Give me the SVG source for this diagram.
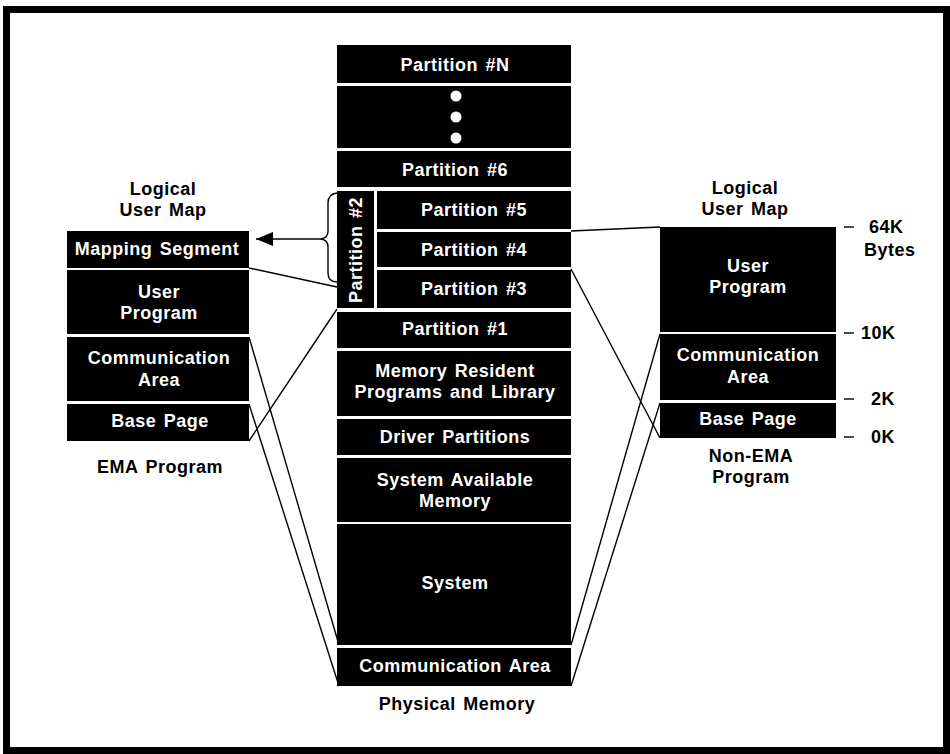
<svg xmlns="http://www.w3.org/2000/svg" width="950" height="754" viewBox="0 0 950 754">
<style>
.box{fill:#000}
.t{font-family:"Liberation Sans",Arial,Helvetica,sans-serif;font-weight:bold;font-size:18px;letter-spacing:0.5px;word-spacing:2px;text-anchor:middle;dominant-baseline:central}
.w{fill:#fff}
.k{fill:#000}
.s{text-anchor:start}
.ln{stroke:#000;stroke-width:1.4;fill:none}
</style>
<defs>
<marker id="ah" markerWidth="10" markerHeight="10" refX="9" refY="5" orient="auto" markerUnits="userSpaceOnUse" viewBox="0 0 10 10">
<path d="M0,0 L10,5 L0,10 Z" fill="#000"/>
</marker>
</defs>
<rect x="0" y="0" width="950" height="754" fill="#fff"/>
<rect id="frame" x="6.5" y="9.5" width="940" height="741" fill="none" stroke="#000" stroke-width="7"/>

<g id="connectors">
<line class="ln" x1="571" y1="231" x2="660" y2="227"/>
<line class="ln" x1="571" y1="269" x2="660" y2="438"/>
<line class="ln" x1="571" y1="645" x2="660" y2="334"/>
<line class="ln" x1="571" y1="686" x2="660" y2="403"/>
<line class="ln" x1="249" y1="268" x2="337" y2="287"/>
<line class="ln" x1="249" y1="441" x2="337" y2="309"/>
<line class="ln" x1="249" y1="337" x2="339" y2="645"/>
<line class="ln" x1="249" y1="404" x2="339" y2="686"/>
<line class="ln" x1="322" y1="239" x2="256" y2="239" stroke-width="1.6"/>
<path d="M256,239 L273,232 L273,246 Z" fill="#000"/>
<path class="ln" d="M337,193 Q328,194 328,203 L328,231 Q328,238 321,239 Q328,240 328,247 L328,273 Q328,282 337,282" stroke-width="1.5"/>
</g>

<!-- Physical memory column -->
<g id="partN"><rect class="box" x="337" y="45" width="234" height="38"/><text class="t w" x="455" y="65">Partition #N</text></g>
<g id="dots"><rect class="box" x="337" y="86" width="234" height="62"/><circle cx="456" cy="96" r="5.5" fill="#fff"/><circle cx="456" cy="117" r="5.5" fill="#fff"/><circle cx="456" cy="138" r="5.5" fill="#fff"/></g>
<g id="part6"><rect class="box" x="337" y="151" width="234" height="36"/><text class="t w" x="455" y="170">Partition #6</text></g>
<g id="part2"><rect class="box" x="337" y="191" width="37" height="117"/><text class="t w" transform="translate(356,250) rotate(-90)" x="0" y="0">Partition #2</text></g>
<g id="part5"><rect class="box" x="377" y="191" width="194" height="38"/><text class="t w" x="474" y="210">Partition #5</text></g>
<g id="part4"><rect class="box" x="377" y="232" width="194" height="35"/><text class="t w" x="474" y="250">Partition #4</text></g>
<g id="part3"><rect class="box" x="377" y="270" width="194" height="38"/><text class="t w" x="474" y="289">Partition #3</text></g>
<g id="part1"><rect class="box" x="337" y="312" width="234" height="36"/><text class="t w" x="455" y="329">Partition #1</text></g>
<g id="memres"><rect class="box" x="337" y="351" width="234" height="65"/><text class="t w" x="455" y="371">Memory Resident</text><text class="t w" x="455" y="392">Programs and Library</text></g>
<g id="driver"><rect class="box" x="337" y="419" width="234" height="36"/><text class="t w" x="455" y="437">Driver Partitions</text></g>
<g id="sysavail"><rect class="box" x="337" y="458" width="234" height="64"/><text class="t w" x="455" y="480">System Available</text><text class="t w" x="455" y="501">Memory</text></g>
<g id="system"><rect class="box" x="337" y="524" width="234" height="121"/><text class="t w" x="455" y="583">System</text></g>
<g id="physcomm"><rect class="box" x="337" y="648" width="234" height="38"/><text class="t w" x="455" y="666">Communication Area</text></g>
<g id="physlabel"><text class="t k" x="457" y="704">Physical Memory</text></g>

<!-- EMA program -->
<g id="emaTitle"><text class="t k" x="163" y="189">Logical</text><text class="t k" x="163" y="210">User Map</text></g>
<g id="emaMap"><rect class="box" x="67" y="231" width="182" height="37"/><text class="t w" x="157" y="249">Mapping Segment</text></g>
<g id="emaUser"><rect class="box" x="67" y="270" width="182" height="64"/><text class="t w" x="159" y="292">User</text><text class="t w" x="159" y="313">Program</text></g>
<g id="emaComm"><rect class="box" x="67" y="337" width="182" height="64"/><text class="t w" x="159" y="358">Communication</text><text class="t w" x="159" y="380">Area</text></g>
<g id="emaBase"><rect class="box" x="67" y="404" width="182" height="37"/><text class="t w" x="160" y="421">Base Page</text></g>
<g id="emaLabel"><text class="t k" x="160" y="467">EMA Program</text></g>

<!-- Non-EMA program -->
<g id="nonTitle"><text class="t k" x="745" y="188">Logical</text><text class="t k" x="745" y="209">User Map</text></g>
<g id="nonUser"><rect class="box" x="660" y="227" width="176" height="105"/><text class="t w" x="748" y="266">User</text><text class="t w" x="748" y="287">Program</text></g>
<g id="nonComm"><rect class="box" x="660" y="334" width="176" height="66"/><text class="t w" x="748" y="355">Communication</text><text class="t w" x="748" y="377">Area</text></g>
<g id="nonBase"><rect class="box" x="660" y="403" width="176" height="35"/><text class="t w" x="748" y="419">Base Page</text></g>
<g id="nonLabel"><text class="t k" x="751" y="456">Non-EMA</text><text class="t k" x="751" y="477">Program</text></g>

<g id="scale">
<line class="ln" x1="844" y1="227" x2="854" y2="227"/>
<line class="ln" x1="844" y1="333" x2="854" y2="333"/>
<line class="ln" x1="844" y1="399" x2="854" y2="399"/>
<line class="ln" x1="844" y1="437" x2="854" y2="437"/>
<text class="t k s" x="869" y="227">64K</text>
<text class="t k s" x="864" y="250">Bytes</text>
<text class="t k s" x="861" y="333">10K</text>
<text class="t k s" x="871" y="399">2K</text>
<text class="t k s" x="871" y="437">0K</text>
</g>
</svg>
